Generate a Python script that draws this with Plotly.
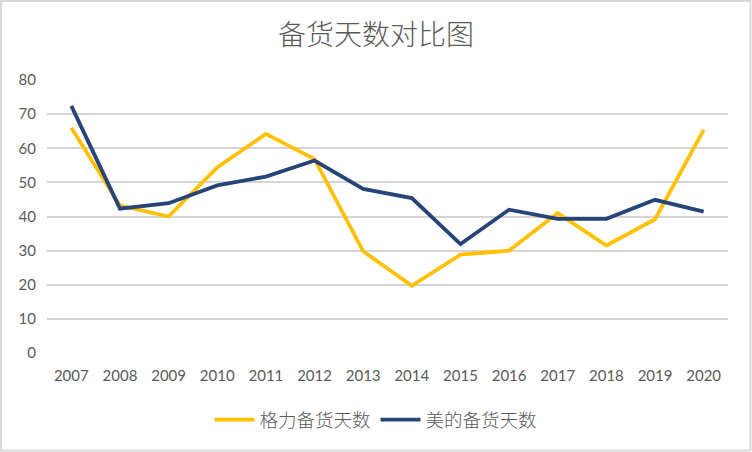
import plotly.graph_objects as go

years = ["2007", "2008", "2009", "2010", "2011", "2012", "2013",
         "2014", "2015", "2016", "2017", "2018", "2019", "2020"]
gree = [66.0, 43.2, 40.0, 54.4, 64.2, 56.8, 29.8, 19.7, 28.8, 30.0, 41.0, 31.5, 39.2, 65.4]
midea = [72.4, 42.3, 43.9, 49.1, 51.7, 56.4, 48.1, 45.4, 31.9, 42.0, 39.3, 39.3, 44.9, 41.4]
y_ticks = [0, 10, 20, 30, 40, 50, 60, 70, 80]

W, H = 752, 452
ML, MR, MT, MB = 47, 24, 80, 99
pw, ph = W - ML - MR, H - MT - MB

fig = go.Figure()
fig.add_trace(go.Scatter(x=years, y=gree, mode="lines", name="格力备货天数",
                         line=dict(color="#FFC000", width=3.8)))
fig.add_trace(go.Scatter(x=years, y=midea, mode="lines", name="美的备货天数",
                         line=dict(color="#264478", width=3.8)))

def px_x(p):
    return (p - ML) / pw

def px_y(p):
    return 1 - (p - MT) / ph

fig.add_shape(type="rect", xref="paper", yref="paper",
              x0=px_x(1), x1=px_x(750.5), y0=px_y(450.5), y1=px_y(1),
              line=dict(color="#D9D9D9", width=2), fillcolor="rgba(0,0,0,0)", layer="below")

fig.update_layout(
    width=W, height=H,
    margin=dict(l=ML, r=MR, t=MT, b=MB, pad=0, autoexpand=False),
    paper_bgcolor="white", plot_bgcolor="white",
    title=dict(text="备货天数对比图", x=0.5, xanchor="center", y=1 - 35 / H, yanchor="middle",
               font=dict(family="Noto Sans CJK SC", size=28, color="#595959", weight=300)),
    xaxis=dict(type="category", showgrid=False, zeroline=False, showline=False,
               ticks="", tickfont=dict(family="Lato", size=15, color="#595959"),
               ticklabelstandoff=12, range=[-0.5, 13.5], automargin=False),
    yaxis=dict(range=[0, 80], tickvals=y_ticks, showgrid=True, gridcolor="#D4D4D4",
               gridwidth=1.5, zeroline=False, showline=False, ticks="",
               tickfont=dict(family="Lato", size=15, color="#595959"),
               ticklabelstandoff=10, automargin=False),
    legend=dict(orientation="h", x=px_x(376), xanchor="center", y=px_y(420), yanchor="middle",
                font=dict(family="Noto Sans CJK SC", size=18.5, color="#595959", weight=300),
                itemwidth=40, tracegroupgap=0),
    showlegend=True,
)

fig.write_html("out.html", config={"displayModeBar": False},
               post_script="document.body.style.margin='0';")
